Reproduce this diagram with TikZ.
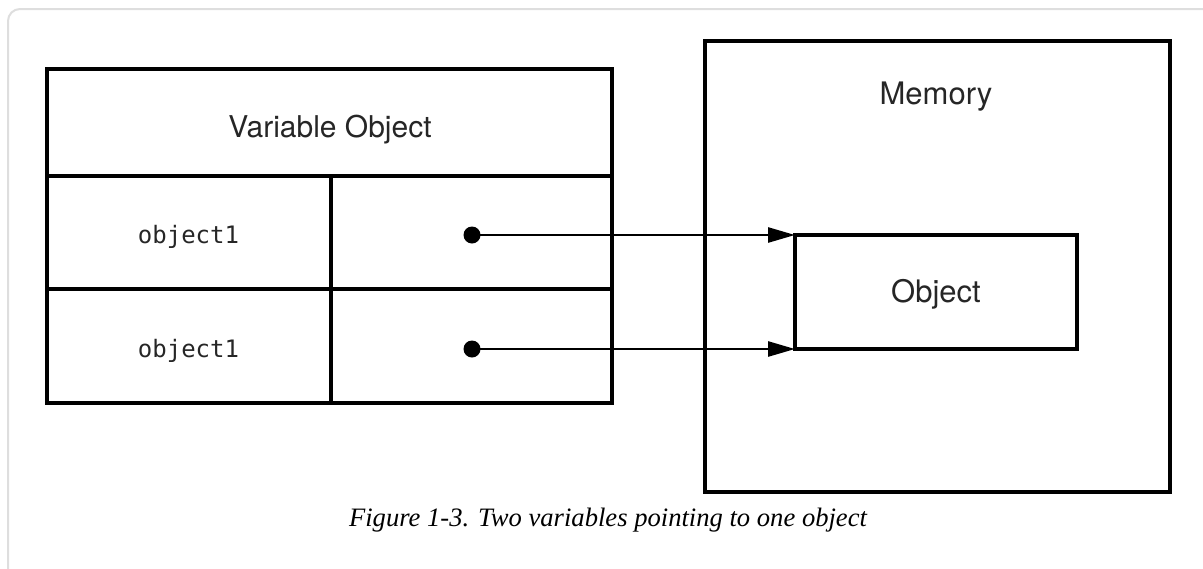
\documentclass[tikz,border=0pt]{standalone}
\usepackage{fontspec}
\setmainfont{Liberation Serif}
\setmonofont{DejaVu Sans Mono}
\newfontfamily\futfont{TeX Gyre Heros}
\usetikzlibrary{positioning,arrows.meta}
\tikzset{c/.style={rectangle,draw,line width=1.8pt,inner sep=0pt,outer sep=0pt},
            t/.style={anchor=base,inner sep=0pt,text=black!85,font=\futfont\fontsize{15}{18}\selectfont},
            v/.style={anchor=base,inner sep=0pt,text=black!85,font=\ttfamily\fontsize{12}{14}\selectfont},
            d/.style={circle,fill,inner sep=0pt,minimum size=8.5pt}, >={Triangle[length=13.5pt,width=7.5pt]}}

\begin{document}
\begin{tikzpicture}[x=0.5pt,y=0.5pt]
\clip (0,0) rectangle (1203,-568);
\draw[black!13, line width=1pt, rounded corners=6pt] (8,-9) rectangle (1240,-600);
\node[c, minimum width=282.5pt, minimum height=53.5pt] at (329.5,-122.5)(0){};
\node[c, minimum width=142pt, minimum height=56.5pt] at (189,-232.5)(1){};
\node[c, minimum width=140.5pt, minimum height=56.5pt] at (471.5,-232.5)(2){};
\node[c, minimum width=142pt, minimum height=57pt] at (189,-346)(3){};
\node[c, minimum width=140.5pt, minimum height=57pt] at (471.5,-346)(4){};
\node[c, minimum width=232.5pt, minimum height=225.5pt] at (937.5,-266.5)(5){};
\node[c, minimum width=141pt, minimum height=57pt] at (936,-292)(6){};
\node[t] at (330,-137)(0t){Variable Object};
\node[v] at (188.5,-243)(1t){object1};
\node[v] at (188.5,-357)(3t){object1};
\node[t, font=\futfont\fontsize{15.5}{18}\selectfont] at (936,-104)(5t){Memory};
\node[t, font=\futfont\fontsize{15.5}{18}\selectfont] at (936,-302)(6t){Object};
\node[d] at (472,-235)(7){};
\node[d] at (472,-349)(8){};
\node[anchor=base, font=\itshape\fontsize{13.3}{16}\selectfont] at (608,-526)(9){Figure 1-3. Two variables pointing to one object};
\draw[->, line width=1.3pt] (7.center) -- (6.north west);
\draw[->, line width=1.3pt] (8.center) -- (6.south west);
\end{tikzpicture}
\end{document}
